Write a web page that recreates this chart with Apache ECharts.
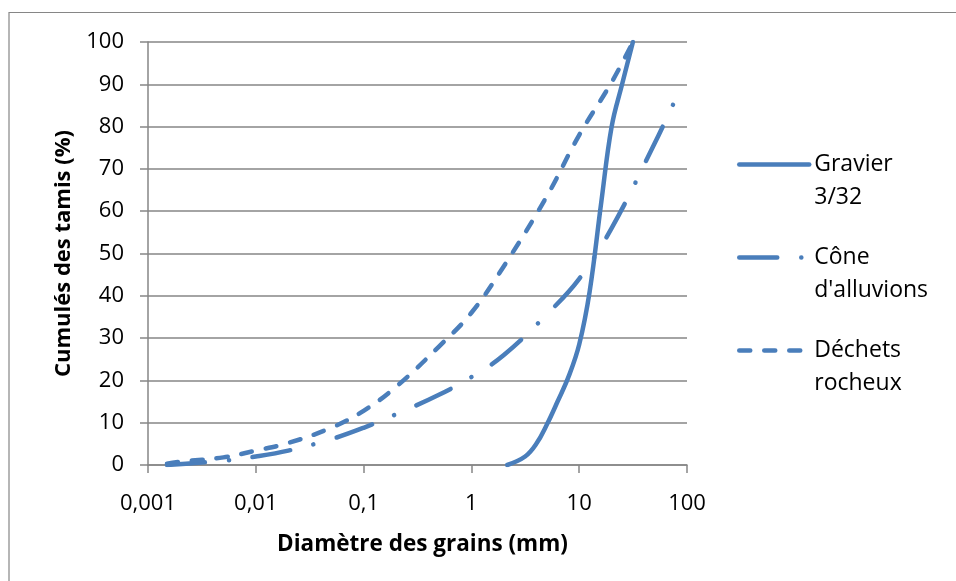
<!DOCTYPE html>
<html>
<head>
<meta charset="utf-8">
<script src="https://cdn.jsdelivr.net/npm/echarts@6/dist/echarts.min.js"></script>
<style>
html,body{margin:0;padding:0;background:#fff;}
#chart{width:956px;height:581px;}
</style>
</head>
<body>
<div id="chart"></div>
<script>
// ---- data ----
const seriesNames = ['Gravier\n3/32', "Cône\nd'alluvions", 'Déchets\nrocheux'];

const gravierDiam = [2.15, 3.15, 4, 5, 6.3, 8, 10, 12.5, 16, 20, 25, 31.5];
const gravierPct  = [0, 2, 5, 9.5, 15, 21, 28.5, 41, 62, 80, 90, 100];

const coneDiam = [0.0015, 0.005, 0.01, 0.02, 0.05, 0.1, 0.2, 0.5, 1, 2, 5, 10, 20, 50, 80];
const conePct  = [0, 1, 2, 3.4, 6.1, 8.8, 12, 16.6, 20.8, 26, 35.6, 44, 56, 76, 87];

const dechetsDiam = [0.0015, 0.002, 0.005, 0.01, 0.02, 0.05, 0.1, 0.2, 0.5, 1, 2, 5, 10, 20, 31.5];
const dechetsPct  = [0.3, 0.8, 1.8, 3.4, 5.2, 8.8, 12.8, 18.5, 28, 36, 47, 63.5, 78, 90.5, 100];

const xTickLabels = ['0,001', '0,01', '0,1', '1', '10', '100'];
const yTicks = [0, 10, 20, 30, 40, 50, 60, 70, 80, 90, 100];

const xTitle = 'Diamètre des grains (mm)';
const yTitle = 'Cumulés des tamis (%)';

// ---- chart ----
const BLUE = '#4A7EBB';
const GRAY = '#868686';
const FONT = 'Open Sans';

function pairs(xs, ys) { return xs.map((x, i) => [x, ys[i]]); }

function mkSeries(name, xs, ys, dash) {
  return {
    name: name,
    type: 'line',
    data: pairs(xs, ys),
    symbol: 'none',
    smooth: 0.4,
    lineStyle: { color: BLUE, width: 4.5, type: dash, cap: 'round', join: 'round' },
    itemStyle: { color: BLUE }
  };
}

const chart = echarts.init(document.getElementById('chart'), null, { renderer: 'canvas' });
chart.setOption({
  animation: false,
  backgroundColor: '#fff',
  textStyle: { fontFamily: FONT, color: '#000' },
  grid: { left: 148, right: 269, top: 42, bottom: 116, containLabel: false },
  graphic: [{
    type: 'rect', silent: true, z: -10,
    shape: { x: 9, y: 12.5, width: 980, height: 600 },
    style: { fill: null, stroke: GRAY, lineWidth: 1.2 }
  }],
  legend: {
    orient: 'vertical',
    left: 737, top: 115,
    padding: 0,
    itemWidth: 70, itemHeight: 14,
    itemGap: -6,
    selectedMode: false,
    itemStyle: { opacity: 0 },
    lineStyle: { width: 4.5, cap: 'round' },
    formatter: function (name) { return '\u00a0\n' + name; },
    textStyle: { fontFamily: FONT, fontSize: 23, color: '#000', lineHeight: 33 },
    data: seriesNames
  },
  xAxis: {
    type: 'log', logBase: 10, min: 0.001, max: 100,
    name: xTitle, nameLocation: 'middle', nameGap: 68,
    nameTextStyle: { fontFamily: FONT, fontSize: 22.5, fontWeight: 'bold', color: '#000', padding: [0, 0, 0, 10] },
    axisLine: { show: true, lineStyle: { color: GRAY, width: 1.5 } },
    axisTick: { show: true, inside: false, length: 8, lineStyle: { color: GRAY, width: 1.5 } },
    minorTick: { show: false },
    splitLine: { show: false },
    axisLabel: {
      fontFamily: FONT, fontSize: 22, color: '#000', margin: 28,
      formatter: function (v) {
        const i = Math.round(Math.log10(v)) + 3;
        return xTickLabels[i] !== undefined ? xTickLabels[i] : '';
      }
    }
  },
  yAxis: {
    type: 'value', min: 0, max: 100, interval: 10,
    name: yTitle, nameLocation: 'middle', nameGap: 73,
    nameTextStyle: { fontFamily: FONT, fontSize: 22, fontWeight: 'bold', color: '#000' },
    axisLine: { show: true, lineStyle: { color: GRAY, width: 1.5 } },
    axisTick: { show: true, inside: false, length: 8, lineStyle: { color: GRAY, width: 1.5 } },
    splitLine: { show: true, lineStyle: { color: GRAY, width: 1.5 } },
    axisLabel: {
      fontFamily: FONT, fontSize: 22, color: '#000', margin: 24,
      formatter: function (v) { return yTicks.indexOf(v) >= 0 ? String(v) : ''; }
    }
  },
  series: [
    mkSeries(seriesNames[0], gravierDiam, gravierPct, 'solid'),
    mkSeries(seriesNames[1], coneDiam, conePct, [38, 24, 0.1, 24]),
    mkSeries(seriesNames[2], dechetsDiam, dechetsPct, [11, 14])
  ]
});
</script>
</body>
</html>
